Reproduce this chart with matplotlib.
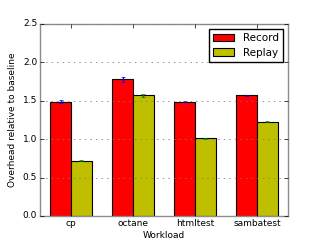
import matplotlib
matplotlib.use("Agg")
import matplotlib.pyplot as plt
import numpy as np

plt.style.use("classic")

workloads = ["cp", "octane", "htmltest", "sambatest"]
record = [1.49, 1.78, 1.49, 1.57]
record_err = [0.02, 0.03, 0.006, 0.006]
replay = [0.72, 1.57, 1.01, 1.23]
replay_err = [0.006, 0.02, 0.006, 0.004]

fig = plt.figure(figsize=(3.2, 2.4), dpi=100)
ax = fig.add_axes([0.125, 0.1, 0.775, 0.8])
ind = np.arange(len(workloads))
w = 1.0 / 3
ax.bar(ind - w, record, w, align="edge", color="r", edgecolor="k", linewidth=0.8,
       yerr=record_err, error_kw=dict(ecolor="b", capsize=1.5, elinewidth=1), label="Record")
ax.bar(ind, replay, w, align="edge", color="y", edgecolor="k", linewidth=0.8,
       yerr=replay_err, error_kw=dict(ecolor="g", capsize=1.5, elinewidth=1), label="Replay")
ax.set_xlim(-0.5, 3.5)
ax.set_ylim(0, 2.5)
ax.set_xticks(ind)
ax.set_xticklabels(workloads)
ax.set_yticks([0.0, 0.5, 1.0, 1.5, 2.0, 2.5])
ax.tick_params(labelsize=6.5, length=3, pad=2)
ax.set_xlabel("Workload", fontsize=6.5, labelpad=2)
ax.set_ylabel("Overhead relative to baseline", fontsize=6.5, labelpad=4)
ax.yaxis.grid(True, linestyle=":", color="0.5", linewidth=0.6)
for s in ax.spines.values():
    s.set_color("0.55")
ax.legend(loc="upper right", fontsize=7.5, handlelength=2, borderpad=0.4, labelspacing=0.4)
fig.savefig("out.png", dpi=100)
